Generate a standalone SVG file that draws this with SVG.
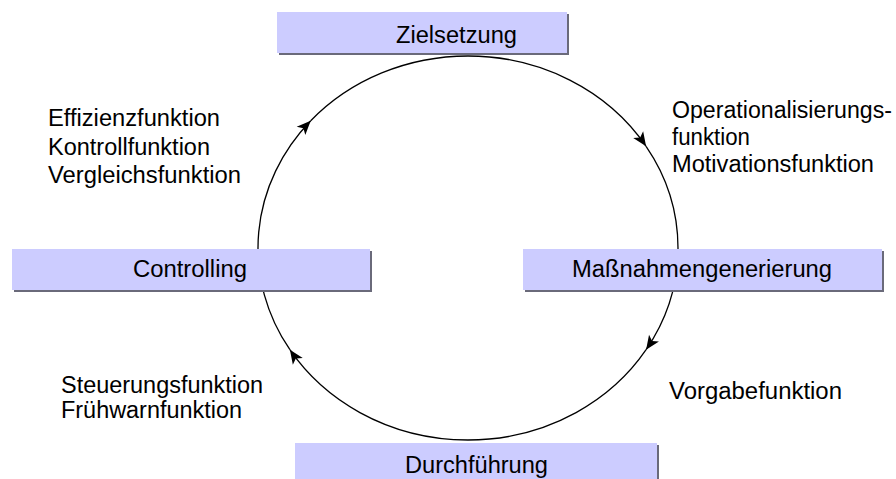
<svg xmlns="http://www.w3.org/2000/svg" width="896" height="479" viewBox="0 0 896 479">
<style>
text{font-family:"Liberation Sans",Arial,sans-serif;font-size:23px;fill:#000}
.box{fill:#ccccff}
.sh{fill:#6a6a7a}
.arc{fill:none;stroke:#000;stroke-width:1.3}
</style>
<defs>
<marker id="ah" markerUnits="userSpaceOnUse" markerWidth="16" markerHeight="14" refX="14" refY="6" orient="auto" overflow="visible">
<path d="M0,0 L14,6 L0,12 L3.5,6 Z" fill="#000"/>
</marker>
</defs>
<rect width="896" height="479" fill="#fff"/>
<g id="connectors">
<path class="arc" d="M468,56 A210,192 0 0 1 646.09,146.26" marker-end="url(#ah)"/>
<path class="arc" d="M646.09,146.26 A210,192 0 0 1 646.09,349.74" marker-end="url(#ah)"/>
<path class="arc" d="M646.09,349.74 A210,192 0 0 1 289.91,349.74" marker-end="url(#ah)"/>
<path class="arc" d="M289.91,349.74 A210,192 0 0 1 310.72,120.78" marker-end="url(#ah)"/>
<path class="arc" d="M310.72,120.78 A210,192 0 0 1 468,56"/>
</g>
<g id="zielsetzung">
<rect class="sh" x="279" y="14" width="290" height="41"/>
<rect class="box" x="277" y="12" width="290" height="41"/>
<text x="396" y="43" textLength="121" lengthAdjust="spacingAndGlyphs">Zielsetzung</text>
</g>
<g id="controlling">
<rect class="sh" x="14" y="251" width="358" height="41"/>
<rect class="box" x="12" y="249" width="358" height="41"/>
<text x="133" y="277" textLength="114" lengthAdjust="spacingAndGlyphs">Controlling</text>
</g>
<g id="massnahmen">
<rect class="sh" x="525" y="251" width="359" height="41"/>
<rect class="box" x="523" y="249" width="359" height="41"/>
<text x="572" y="277" textLength="260" lengthAdjust="spacingAndGlyphs">Maßnahmengenerierung</text>
</g>
<g id="durchfuehrung">
<rect class="sh" x="297" y="445" width="362" height="41"/>
<rect class="box" x="295" y="443" width="362" height="41"/>
<text x="405" y="473" textLength="143" lengthAdjust="spacingAndGlyphs">Durchführung</text>
</g>
<g id="labels">
<text x="48" y="126" textLength="172" lengthAdjust="spacingAndGlyphs">Effizienzfunktion</text>
<text x="48" y="155" textLength="162" lengthAdjust="spacingAndGlyphs">Kontrollfunktion</text>
<text x="48" y="183" textLength="193" lengthAdjust="spacingAndGlyphs">Vergleichsfunktion</text>
<text x="672" y="118" textLength="220" lengthAdjust="spacingAndGlyphs">Operationalisierungs-</text>
<text x="672" y="145" textLength="78" lengthAdjust="spacingAndGlyphs">funktion</text>
<text x="672" y="172" textLength="202" lengthAdjust="spacingAndGlyphs">Motivationsfunktion</text>
<text x="61" y="393" textLength="202" lengthAdjust="spacingAndGlyphs">Steuerungsfunktion</text>
<text x="61" y="418" textLength="181" lengthAdjust="spacingAndGlyphs">Frühwarnfunktion</text>
<text x="669" y="399" textLength="173" lengthAdjust="spacingAndGlyphs">Vorgabefunktion</text>
</g>
</svg>
